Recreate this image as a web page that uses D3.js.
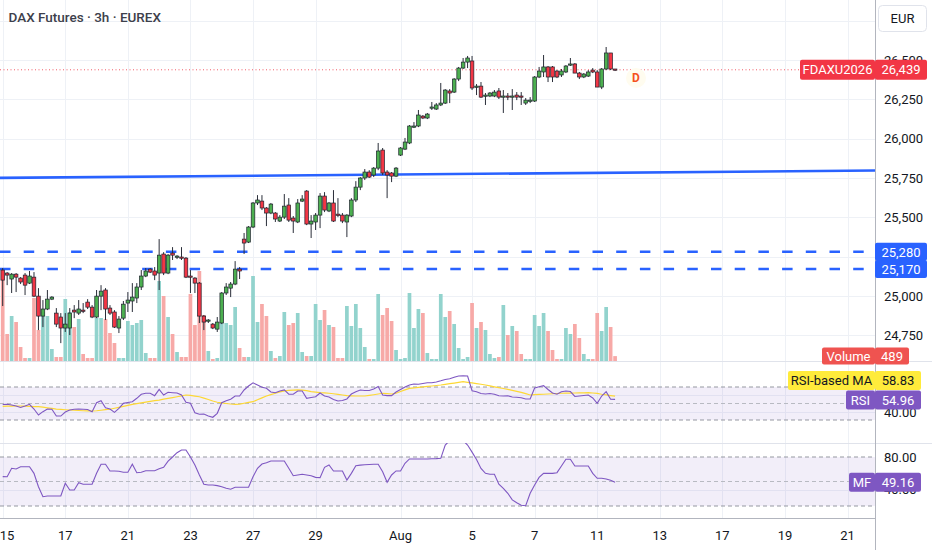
<!DOCTYPE html>
<html><head><meta charset="utf-8">
<script src="https://cdn.jsdelivr.net/npm/d3@7"></script>
<style>
html,body{margin:0;padding:0;background:#fff;overflow:hidden;}
svg{display:block;font-family:Roboto,"Noto Sans",sans-serif;}
</style></head><body>
<svg id="c" width="932" height="550"></svg>
<script>
// ---------- DATA ----------
const openP=[25164,25145,25107,25138,25113,25132,25081,25119,24998,24871,24916,24979,24890,24865,24795,24795,24909,24890,24909,24960,24928,24865,24998,25037,24922,24897,24795,24858,24954,24967,24986,25056,25126,25170,25158,25145,25266,25145,25272,25247,25247,25240,25126,25113,25081,24871,24840,24820,24788,24827,25018,25049,25075,25170,25361,25342,25438,25591,25603,25559,25527,25527,25476,25501,25578,25495,25470,25603,25667,25457,25470,25514,25635,25540,25591,25520,25514,25470,25508,25610,25692,25750,25788,25769,25813,25928,25788,25782,25762,25896,25934,25973,26074,26081,26144,26132,26195,26189,26215,26227,26304,26297,26380,26450,26488,26495,26329,26335,26272,26272,26272,26304,26265,26272,26265,26278,26272,26227,26240,26240,26393,26425,26457,26457,26431,26406,26425,26469,26476,26418,26393,26399,26437,26425,26329,26444,26546,26444];
const highP=[25177,25151,25145,25145,25119,25145,25158,25151,25049,24973,25037,24998,24922,24890,24890,24922,24941,24973,24954,24979,24941,25037,25068,25049,24941,24909,24871,24967,25024,25081,25081,25164,25177,25177,25183,25361,25278,25266,25310,25259,25310,25247,25164,25119,25088,24878,24852,24827,24865,25024,25081,25088,25221,25183,25400,25444,25597,25641,25641,25565,25591,25533,25514,25648,25622,25508,25616,25641,25673,25514,25527,25654,25660,25597,25673,25622,25527,25520,25622,25730,25756,25807,25800,25820,25973,25941,25800,25788,25820,25947,26005,26087,26106,26183,26151,26164,26234,26227,26355,26316,26316,26386,26457,26514,26527,26527,26348,26361,26291,26297,26310,26323,26310,26291,26316,26297,26297,26259,26265,26399,26457,26533,26463,26463,26437,26444,26469,26514,26482,26425,26418,26437,26450,26437,26450,26584,26546,26444];
const lowP=[24935,25068,25018,25024,25075,25005,25075,24992,24782,24801,24909,24973,24801,24699,24770,24750,24858,24878,24890,24916,24858,24858,24909,24846,24878,24795,24763,24846,24897,24897,24954,25037,25119,25145,25100,25037,25132,25138,25228,25234,25228,25113,25018,25018,24827,24782,24827,24788,24770,24820,25005,24992,25068,25107,25266,25336,25431,25578,25546,25444,25520,25470,25470,25489,25470,25400,25463,25597,25450,25368,25419,25431,25533,25533,25470,25501,25463,25374,25501,25597,25673,25737,25750,25756,25800,25769,25622,25724,25756,25890,25928,25966,26068,26074,26125,26125,26183,26183,26208,26221,26227,26291,26367,26444,26450,26310,26278,26259,26215,26265,26265,26253,26164,26246,26183,26246,26215,26215,26227,26234,26386,26393,26361,26361,26386,26393,26418,26463,26418,26380,26386,26393,26418,26329,26316,26437,26437,26431];
const closeP=[25100,25132,25138,25119,25088,25068,25126,24998,24871,24916,24979,24992,24820,24795,24820,24890,24897,24916,24903,24928,24865,24998,25030,24916,24890,24801,24852,24947,24973,24992,25056,25126,25158,25151,25132,25259,25145,25259,25259,25253,25240,25119,25119,25081,24871,24833,24846,24795,24833,25018,25056,25075,25170,25158,25336,25438,25591,25610,25559,25527,25584,25489,25501,25571,25482,25476,25591,25616,25457,25476,25514,25635,25546,25591,25476,25514,25476,25514,25610,25692,25750,25788,25756,25813,25922,25782,25769,25762,25813,25941,25979,26081,26081,26151,26132,26157,26202,26215,26227,26310,26291,26380,26450,26488,26514,26323,26335,26265,26278,26291,26297,26265,26272,26265,26272,26265,26265,26246,26246,26393,26431,26457,26393,26393,26393,26431,26463,26476,26418,26393,26412,26425,26425,26329,26444,26546,26444,26439];
const volume=[8100,2700,4500,3900,1400,300,300,6300,3100,4900,4500,1200,400,400,6200,4900,3400,4200,700,300,300,4300,4300,4200,2800,1800,300,300,4000,3600,3800,4100,800,300,300,8000,6500,4400,2700,900,400,400,6700,3600,9000,4600,1000,200,300,3800,3800,3600,5400,1300,400,400,8500,3900,5700,4500,1000,300,500,4900,3600,3800,4800,900,500,500,5700,4100,5100,3600,3400,300,300,5500,3500,5700,3300,1400,200,200,6700,4600,5300,4000,1100,200,300,6800,3300,5200,4800,800,200,200,6700,4400,5000,3700,1300,200,400,5800,3300,3900,3100,700,300,400,5600,2600,3500,3000,700,200,200,4600,3500,4800,3000,1100,200,200,3300,2700,3700,2300,700,200,200,4800,3000,5400,3400,489];
const rsi=[48.8,49.0,48.2,47.0,45.2,47.0,49.0,43.3,36.1,40.1,43.3,43.0,34.8,34.8,39.7,42.1,43.1,43.3,43.0,42.7,40.1,51.0,53.4,44.9,43.3,39.3,44.2,50.2,51.2,52.2,56.3,61.2,62.4,62.4,59.5,67.2,60.3,63.6,63.1,62.7,60.3,51.5,50.2,38.8,36.9,37.3,34.8,33.3,38.1,51.0,53.4,55.1,59.1,59.1,66.4,71.2,75.0,72.4,69.6,68.4,63.9,63.1,65.2,66.4,61.2,61.2,65.2,65.2,56.3,57.3,58.2,62.7,59.1,57.9,54.8,53.0,53.6,55.5,61.5,64.3,66.4,65.8,65.8,67.6,70.6,60.3,59.5,59.5,63.9,67.0,70.0,72.4,73.6,73.3,74.2,75.2,75.2,76.1,77.5,79.1,79.9,81.8,83.3,83.7,83.3,65.5,64.3,62.1,61.5,62.1,61.3,59.3,59.1,59.3,57.9,57.5,57.0,55.5,55.5,68.8,70.4,71.6,67.0,62.7,61.2,64.3,65.2,64.5,58.5,59.1,59.7,60.3,56.7,50.2,59.1,64.3,55.1,54.96];
const rsiMA=[46.5,46.7,46.9,47.0,47.0,46.8,46.5,46.3,46.1,45.5,44.8,44.0,43.2,42.8,42.4,42.1,41.8,41.5,41.2,41.0,40.9,41.2,41.8,42.5,43.0,44.2,45.4,46.6,47.8,49.0,49.9,50.8,51.7,52.6,53.4,54.2,55.2,56.2,57.2,58.2,59.3,60.3,59.8,59.0,58.2,56.5,54.8,53.0,51.5,50.7,50.0,49.4,49.0,49.3,50.3,51.3,52.2,54.5,56.8,59.1,60.8,62.4,64.0,65.3,65.8,66.2,66.4,66.2,65.5,64.5,63.8,63.1,62.8,62.4,61.8,61.0,60.3,59.6,59.3,59.1,59.1,59.1,59.8,60.6,61.5,62.4,62.0,61.5,62.5,64.5,66.5,68.4,69.0,69.6,70.1,70.7,71.2,71.8,72.4,73.2,74.0,74.8,75.6,76.4,75.7,75.0,74.2,73.3,72.4,71.3,70.2,69.2,68.2,67.2,66.0,64.8,63.5,62.0,60.3,60.7,61.0,61.2,61.5,61.8,62.1,62.4,62.5,62.6,62.7,62.8,62.9,63.1,62.7,62.2,61.2,60.4,59.6,58.83];
const mf=[56.0,55.9,66.2,65.3,68.1,68.1,68.1,60.0,43.6,31.4,32.2,32.2,32.2,32.2,47.8,39.6,39.6,48.5,46.6,46.6,46.6,60.0,71.1,71.1,62.9,62.9,62.5,61.3,61.3,71.1,60.8,61.3,63.2,63.2,63.2,65.5,67.4,75.0,80.0,85.3,88.6,88.6,80.0,70.2,58.0,46.6,45.7,45.7,44.9,43.5,41.7,40.5,42.9,42.9,42.9,42.9,55.9,66.2,71.4,73.0,75.1,75.1,75.1,75.1,66.2,57.1,58.0,58.8,58.0,57.0,55.1,54.7,67.4,70.2,62.9,62.9,62.9,51.8,60.0,69.3,70.0,70.5,70.8,71.1,71.1,62.0,49.0,58.0,62.9,62.9,72.3,77.6,77.6,77.6,77.6,77.6,77.8,78.0,78.4,94.7,100,100,100,100,94.7,86.0,77.0,66.0,60.0,58.8,58.8,46.6,41.7,35.6,27.5,24.0,21.0,20.4,35.6,45.7,55.0,60.0,60.0,60.0,60.8,69.0,77.2,77.2,69.0,69.0,69.0,69.0,60.0,53.9,53.9,53.1,51.5,49.16];
const dateTickIdx=[0,14,28,42,56,70,89,105,119,133,147,161,175,189];
const dateTickLbl=["15","17","21","23","27","29","Aug","5","7","11","13","17","19","21"];
const priceGrid=[26750,26500,26250,26000,25750,25500,25250,25000,24750];
const priceLabels=[26500,26250,26000,25750,25500,25000,24750];
const rsiLabels=[40];
const mfLabels=[80,40];
const zoneLevels=[25280,25170];
const trendIdx=[-1,196];
const trendPrice=[25751,25798];
const lastPrice=26439;
const symbol="FDAXU2026";
const title="DAX Futures · 3h · EUREX";

// ---------- LAYOUT ----------
const svg=d3.select("#c");
const plotR=875;
const mainB=361, rsiT=361, rsiB=443, mfT=443, mfB=518;
const x=d3.scaleLinear().domain([0,195]).range([2.7,874.35]);
const y=d3.scaleLinear().domain([24750,26500]).range([335.1,60.2]);
const yv=d3.scaleLinear().domain([0,10000]).range([mainB,mainB-100]);
const yr=d3.scaleLinear().domain([30,70]).range([420,387]);
const ym=d3.scaleLinear().domain([20,80]).range([506,457]);
const fmt=d3.format(",");
const idx=d3.range(openP.length);

const defs=svg.append("defs");
function clip(id,x0,y0,w,h){defs.append("clipPath").attr("id",id).append("rect").attr("x",x0).attr("y",y0).attr("width",w).attr("height",h);}
clip("cm",0,0,plotR,mainB);clip("cr",0,rsiT,plotR,rsiB-rsiT);clip("cf",0,mfT,plotR,mfB-mfT);

svg.append("rect").attr("width",932).attr("height",550).attr("fill","#fff");

// grid
const grid=svg.append("g").attr("stroke","#eef1f6").attr("stroke-width",1);
grid.selectAll(".vg").data(dateTickIdx).join("line").attr("x1",d=>Math.round(x(d))+0.5).attr("x2",d=>Math.round(x(d))+0.5).attr("y1",0).attr("y2",mfB);
grid.selectAll(".hg").data(priceGrid).join("line").attr("x1",0).attr("x2",plotR).attr("y1",d=>Math.round(y(d))+0.5).attr("y2",d=>Math.round(y(d))+0.5);
grid.selectAll(".rg").data([60,40]).join("line").attr("x1",0).attr("x2",plotR).attr("y1",d=>Math.round(yr(d))+0.5).attr("y2",d=>Math.round(yr(d))+0.5);
grid.selectAll(".mg").data([40]).join("line").attr("x1",0).attr("x2",plotR).attr("y1",d=>Math.round(ym(d))+0.5).attr("y2",d=>Math.round(ym(d))+0.5);

// panel separators
svg.append("g").attr("stroke","#e0e3eb").selectAll("line").data([rsiT,mfT]).join("line")
  .attr("x1",0).attr("x2",932).attr("y1",d=>d+0.5).attr("y2",d=>d+0.5);
svg.append("line").attr("x1",0).attr("x2",plotR).attr("y1",mfB+0.5).attr("y2",mfB+0.5).attr("stroke","#b2b5be");
svg.append("line").attr("x1",plotR+0.5).attr("x2",plotR+0.5).attr("y1",0).attr("y2",550).attr("stroke","#b2b5be");

// main panel
const gm=svg.append("g").attr("clip-path","url(#cm)");
const up=i=>closeP[i]>=openP[i];
gm.selectAll(".vol").data(idx).join("rect")
  .attr("x",i=>x(i)-1.85).attr("width",3.7)
  .attr("y",i=>yv(volume[i])).attr("height",i=>mainB-yv(volume[i]))
  .attr("fill",i=>up(i)?"#92d3cd":"#f7a9a7");
gm.append("line").attr("x1",0).attr("x2",plotR).attr("y1",y(lastPrice)).attr("y2",y(lastPrice))
  .attr("stroke","#f23645").attr("stroke-width",1).attr("stroke-dasharray","1,2.5").attr("opacity",0.8);
gm.selectAll(".zone").data(zoneLevels).join("line").attr("x1",0).attr("x2",plotR)
  .attr("y1",d=>y(d)).attr("y2",d=>y(d)).attr("stroke","#2962ff").attr("stroke-width",2.5).attr("stroke-dasharray","10.5,13.2");
gm.append("line").attr("x1",x(trendIdx[0])).attr("x2",x(trendIdx[1])).attr("y1",y(trendPrice[0])).attr("y2",y(trendPrice[1]))
  .attr("stroke","#2962ff").attr("stroke-width",2.6);
const cg=gm.selectAll(".cdl").data(idx).join("g");
cg.append("line").attr("x1",i=>x(i)).attr("x2",i=>x(i)).attr("y1",i=>y(highP[i])).attr("y2",i=>y(lowP[i]))
  .attr("stroke","#2a2e39").attr("stroke-width",1);
cg.append("rect").attr("x",i=>x(i)-1.8).attr("width",3.6)
  .attr("y",i=>Math.min(y(openP[i]),y(closeP[i])))
  .attr("height",i=>Math.max(1.2,Math.abs(y(openP[i])-y(closeP[i]))))
  .attr("fill",i=>up(i)?"#4caf50":"#f23645").attr("stroke","#1e222d").attr("stroke-width",0.7);

// dividend marker
svg.append("circle").attr("cx",636).attr("cy",78).attr("r",10).attr("fill","#fffcef");
svg.append("text").attr("x",636).attr("y",78).attr("dy","0.36em").attr("text-anchor","middle")
  .attr("font-size",12).attr("font-weight",700).attr("fill","#f5511e").text("D");

// RSI panel
const gr=svg.append("g").attr("clip-path","url(#cr)");
gr.append("rect").attr("x",0).attr("width",plotR).attr("y",yr(70)).attr("height",yr(30)-yr(70)).attr("fill","rgba(126,87,194,0.1)");
gr.selectAll(".rb").data([70,50,30]).join("line").attr("x1",0).attr("x2",plotR)
  .attr("y1",d=>yr(d)).attr("y2",d=>yr(d)).attr("stroke",d=>d===50?"#b8bac2":"#9598a1").attr("stroke-dasharray","4,3");
gr.append("path").datum(idx).attr("fill","none").attr("stroke","#fdd835").attr("stroke-width",1.2)
  .attr("d",d3.line().x(i=>x(i)).y(i=>yr(rsiMA[i])));
gr.append("path").datum(idx).attr("fill","none").attr("stroke","#7e57c2").attr("stroke-width",1.1)
  .attr("d",d3.line().x(i=>x(i)).y(i=>yr(rsi[i])));

// MF panel
const gf=svg.append("g").attr("clip-path","url(#cf)");
gf.append("rect").attr("x",0).attr("width",plotR).attr("y",ym(80)).attr("height",ym(20)-ym(80)).attr("fill","rgba(126,87,194,0.1)");
gf.selectAll(".mb").data([80,50,20]).join("line").attr("x1",0).attr("x2",plotR)
  .attr("y1",d=>ym(d)).attr("y2",d=>ym(d)).attr("stroke",d=>d===50?"#b8bac2":"#9598a1").attr("stroke-dasharray","4,3");
gf.append("path").datum(idx).attr("fill","none").attr("stroke","#7e57c2").attr("stroke-width",1.1)
  .attr("d",d3.line().x(i=>x(i)).y(i=>ym(mf[i])));

// time axis
svg.selectAll(".tl").data(dateTickIdx).join("text").attr("x",d=>Math.max(x(d),7)).attr("y",535).attr("dy","0.35em")
  .attr("text-anchor","middle").attr("font-size",13).attr("fill","#131722").text((d,k)=>dateTickLbl[k]);

// price axis labels
const ax=svg.append("g").attr("font-size",13).attr("fill","#131722");
ax.selectAll(".pl").data(priceLabels).join("text").attr("x",884).attr("y",d=>y(d)).attr("dy","0.36em").text(d=>fmt(d));
ax.selectAll(".rl").data(rsiLabels).join("text").attr("x",884).attr("y",d=>yr(d)+1).attr("dy","0.36em").text(d=>d.toFixed(2));
ax.selectAll(".ml").data(mfLabels).join("text").attr("x",884).attr("y",d=>ym(d)).attr("dy","0.36em").text(d=>d.toFixed(2));

// EUR box
svg.append("rect").attr("x",878.5).attr("y",5.5).attr("width",48).attr("height",26).attr("rx",4).attr("fill","#fff").attr("stroke","#e0e3eb");
svg.append("text").attr("x",902.5).attr("y",18.5).attr("dy","0.36em").attr("text-anchor","middle").attr("font-size",13).attr("fill","#131722").text("EUR");

// label boxes
function box(x0,w,yc,h,fill,txt,col){
  svg.append("rect").attr("x",x0).attr("y",yc-h/2).attr("width",w).attr("height",h).attr("rx",2).attr("fill",fill);
  svg.append("text").attr("x",x0+w/2).attr("y",yc).attr("dy","0.36em").attr("text-anchor","middle")
    .attr("font-size",13).attr("fill",col).text(txt);
}
const yl=y(lastPrice);
box(800,75,yl,20,"#f23645",symbol,"#fff");
box(875,52,yl,20,"#f23645",fmt(lastPrice),"#fff");
box(875,52,y(zoneLevels[0]),18,"#2962ff",fmt(zoneLevels[0]),"#fff");
box(875,52,y(zoneLevels[1]),18,"#2962ff",fmt(zoneLevels[1]),"#fff");
const yvl=yv(volume[volume.length-1]);
box(822,53,yvl,17,"#ef5350","Volume","#fff");
box(875,34,yvl,17,"#ef5350",String(volume[volume.length-1]),"#fff");
const yrs=yr(rsi[rsi.length-1])+0.5, yma=yrs-19.5;
box(788,87,yma,19,"#ffeb3b","RSI-based MA","#131722");
box(875,46,yma,19,"#ffeb3b",rsiMA[rsiMA.length-1].toFixed(2),"#131722");
box(846,29,yrs,19,"#7e57c2","RSI","#fff");
box(875,46,yrs,19,"#7e57c2",rsi[rsi.length-1].toFixed(2),"#fff");
const ymf=ym(mf[mf.length-1]);
box(849,26,ymf,19,"#7e57c2","MF","#fff");
box(875,46,ymf,19,"#7e57c2",mf[mf.length-1].toFixed(2),"#fff");

// title
svg.append("text").attr("x",8.5).attr("y",17.5).attr("dy","0.36em").attr("font-size",13.5).attr("font-weight",500)
  .attr("fill","#3d404b").text(title);
</script>
</body></html>
